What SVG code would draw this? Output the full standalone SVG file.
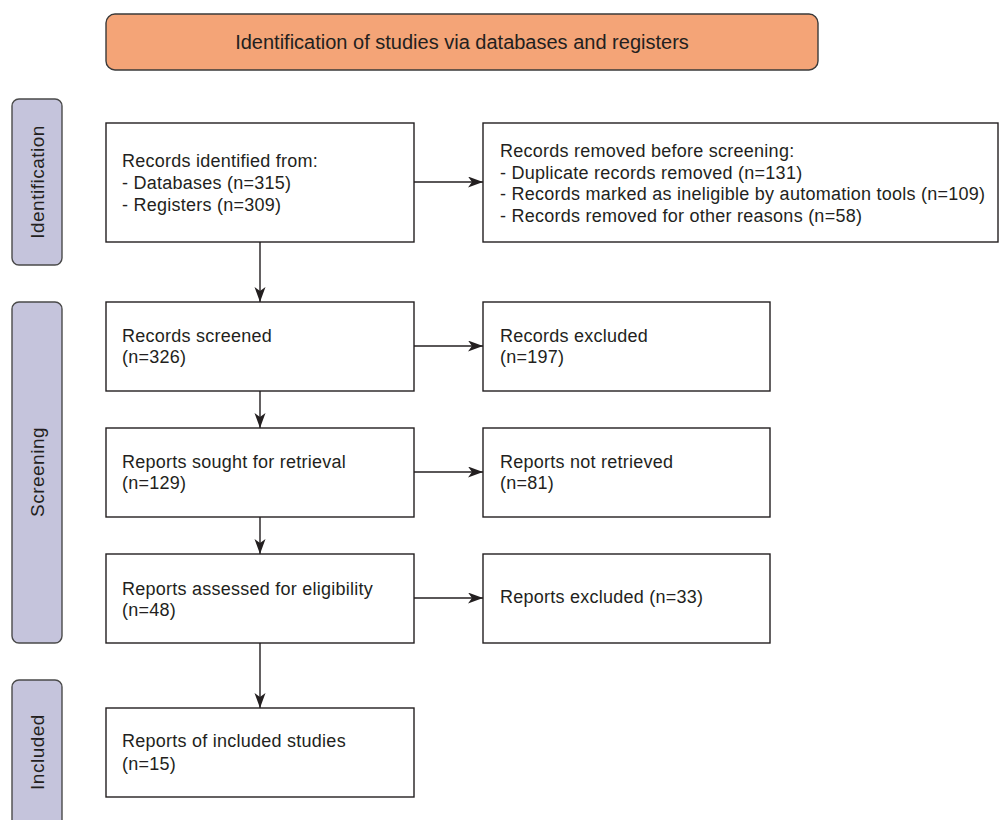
<svg xmlns="http://www.w3.org/2000/svg" width="999" height="820" viewBox="0 0 999 820">
<defs>
<style>
.box{fill:#ffffff;stroke:#231f20;stroke-width:1.4}
.side{fill:#c5c4dc;stroke:#4a4a4a;stroke-width:1.4}
.hdr{fill:#f4a477;stroke:#3a3a3a;stroke-width:1.4}
.t{font-family:"Liberation Sans",Arial,sans-serif;font-size:18px;fill:#231f20;letter-spacing:0.25px}
.h{font-family:"Liberation Sans",Arial,sans-serif;font-size:20px;fill:#231f20;text-anchor:middle}
.s{font-family:"Liberation Sans",Arial,sans-serif;font-size:19px;fill:#231f20;text-anchor:middle;letter-spacing:0.5px}
.c{stroke:#231f20;stroke-width:1.4;fill:none;marker-end:url(#ah)}
</style>
<marker id="ah" markerWidth="16" markerHeight="12" refX="15" refY="5.5" orient="auto" markerUnits="userSpaceOnUse">
<path d="M0,0 L15,5.5 L0,11 L4,5.5 Z" fill="#231f20"/>
</marker>
</defs>

<g id="header">
<rect class="hdr" x="106" y="14" width="712" height="56" rx="9"/>
<text class="h" x="462" y="49">Identification of studies via databases and registers</text>
</g>

<g id="side-identification">
<rect class="side" x="12" y="99" width="50" height="166" rx="7"/>
<text class="s" transform="translate(44,182) rotate(-90)">Identification</text>
</g>
<g id="side-screening">
<rect class="side" x="12" y="302" width="50" height="341" rx="7"/>
<text class="s" transform="translate(44,472) rotate(-90)">Screening</text>
</g>
<g id="side-included">
<rect class="side" x="12" y="680" width="50" height="150" rx="7"/>
<text class="s" transform="translate(44,752) rotate(-90)">Included</text>
</g>

<g id="records-identified">
<rect class="box" x="106" y="123" width="308" height="119"/>
<text class="t" x="122" y="167">Records identified from:</text>
<text class="t" x="122" y="189">- Databases (n=315)</text>
<text class="t" x="122" y="211">- Registers (n=309)</text>
</g>
<g id="records-removed">
<rect class="box" x="483" y="123" width="515" height="119"/>
<text class="t" x="500" y="157">Records removed before screening:</text>
<text class="t" x="500" y="178.5">- Duplicate records removed (n=131)</text>
<text class="t" x="500" y="200">- Records marked as ineligible by automation tools (n=109)</text>
<text class="t" x="500" y="221.5">- Records removed for other reasons (n=58)</text>
</g>

<g id="records-screened">
<rect class="box" x="106" y="302" width="308" height="89"/>
<text class="t" x="122" y="342">Records screened</text>
<text class="t" x="122" y="363">(n=326)</text>
</g>
<g id="records-excluded">
<rect class="box" x="483" y="302" width="287" height="89"/>
<text class="t" x="500" y="342">Records excluded</text>
<text class="t" x="500" y="363">(n=197)</text>
</g>

<g id="reports-sought">
<rect class="box" x="106" y="428" width="308" height="89"/>
<text class="t" x="122" y="468">Reports sought for retrieval</text>
<text class="t" x="122" y="489">(n=129)</text>
</g>
<g id="reports-not-retrieved">
<rect class="box" x="483" y="428" width="287" height="89"/>
<text class="t" x="500" y="468">Reports not retrieved</text>
<text class="t" x="500" y="489">(n=81)</text>
</g>

<g id="reports-assessed">
<rect class="box" x="106" y="554" width="308" height="89"/>
<text class="t" x="122" y="595">Reports assessed for eligibility</text>
<text class="t" x="122" y="616">(n=48)</text>
</g>
<g id="reports-excluded">
<rect class="box" x="483" y="554" width="287" height="89"/>
<text class="t" x="500" y="603">Reports excluded (n=33)</text>
</g>

<g id="reports-included">
<rect class="box" x="106" y="708" width="308" height="89"/>
<text class="t" x="122" y="747">Reports of included studies</text>
<text class="t" x="122" y="770">(n=15)</text>
</g>

<g id="connectors">
<line class="c" x1="414" y1="182" x2="483" y2="182"/>
<line class="c" x1="260" y1="242" x2="260" y2="302"/>
<line class="c" x1="414" y1="346" x2="483" y2="346"/>
<line class="c" x1="260" y1="391" x2="260" y2="428"/>
<line class="c" x1="414" y1="472" x2="483" y2="472"/>
<line class="c" x1="260" y1="517" x2="260" y2="554"/>
<line class="c" x1="414" y1="598" x2="483" y2="598"/>
<line class="c" x1="260" y1="643" x2="260" y2="708"/>
</g>
</svg>
